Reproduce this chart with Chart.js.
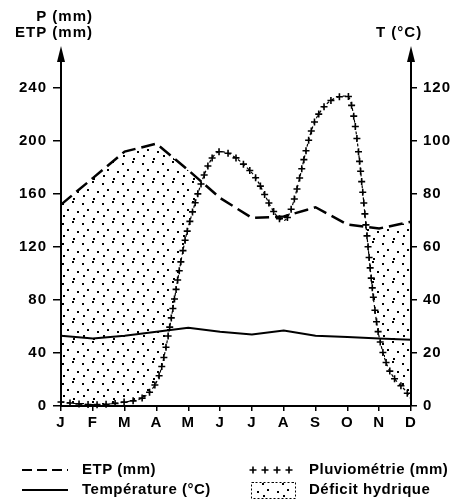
<!DOCTYPE html>
<html>
<head>
<meta charset="utf-8">
<script src="https://cdn.jsdelivr.net/npm/chart.js@4"></script>
<style>
  html, body { margin: 0; padding: 0; background: #fff; }
</style>
</head>
<body>
<canvas id="c" width="454" height="503"></canvas>
<script>
const months = ["J", "F", "M", "A", "M", "J", "J", "A", "S", "O", "N", "D"];
const etp = [152, 172, 192, 198, 178, 157, 142, 143, 150, 137, 134, 139];
const pluvio = [3, 1, 3, 18, 135, 192, 176, 140, 216, 234, 52, 5];
const temperature = [26.5, 25.5, 26.5, 28, 29.5, 28, 27, 28.5, 26.5, 26, 25.5, 25];

const FONT = "'Liberation Sans', Arial, sans-serif";

// stipple tile for the "déficit hydrique" area
function stipple() {
  const t = document.createElement("canvas");
  t.width = 20; t.height = 20;
  const g = t.getContext("2d");
  g.fillStyle = "#000";
  [[2, 3], [12, 1], [7, 9], [17, 11], [3, 15], [13, 18]].forEach(([x, y]) => {
    g.fillRect(x, y, 2, 2);
  });
  return g.createPattern(t, "repeat");
}

function cross(ctx, x, y, r) {
  ctx.moveTo(x - r, y); ctx.lineTo(x + r, y);
  ctx.moveTo(x, y - r); ctx.lineTo(x, y + r);
}

const decor = {
  id: "decor",
  beforeUpdate(chart) { chart.ctx.letterSpacing = "1px"; },
  beforeDraw(chart) { chart.ctx.letterSpacing = "1px"; },
  afterDatasetsDraw(chart) {
    // crosses along the rainfall curve
    const ctx = chart.ctx;
    const pts = chart.getDatasetMeta(1).data;
    ctx.save();
    ctx.strokeStyle = "#000";
    ctx.lineWidth = 1.6;
    ctx.beginPath();
    let prev = { x: pts[0].x, y: pts[0].y }, acc = 0;
    cross(ctx, prev.x, prev.y, 3.5);
    for (let i = 0; i < pts.length - 1; i++) {
      const a = pts[i], b = pts[i + 1];
      const c1x = a.cp2x ?? a.x, c1y = a.cp2y ?? a.y;
      const c2x = b.cp1x ?? b.x, c2y = b.cp1y ?? b.y;
      for (let k = 1; k <= 60; k++) {
        const t = k / 60, u = 1 - t;
        const x = u * u * u * a.x + 3 * u * u * t * c1x + 3 * u * t * t * c2x + t * t * t * b.x;
        const y = u * u * u * a.y + 3 * u * u * t * c1y + 3 * u * t * t * c2y + t * t * t * b.y;
        acc += Math.hypot(x - prev.x, y - prev.y);
        prev = { x, y };
        if (acc >= 9) { acc = 0; cross(ctx, x, y, 3.5); }
      }
    }
    ctx.stroke();
    ctx.restore();
  },
  afterDraw(chart) {
    const ctx = chart.ctx;
    const a = chart.chartArea;
    ctx.save();
    ctx.strokeStyle = "#000";
    ctx.fillStyle = "#000";
    ctx.lineWidth = 2;

    // axis arrows
    [a.left, a.right].forEach(x => {
      ctx.beginPath();
      ctx.moveTo(x, a.top); ctx.lineTo(x, 58);
      ctx.stroke();
      ctx.beginPath();
      ctx.moveTo(x, 46); ctx.lineTo(x - 4, 62); ctx.lineTo(x + 4, 62);
      ctx.closePath(); ctx.fill();
    });

    // axis titles
    ctx.letterSpacing = "1px";
    ctx.font = "bold 15px " + FONT;
    ctx.textBaseline = "middle";
    ctx.textAlign = "right";
    ctx.fillText("P (mm)", 93, 17);
    ctx.fillText("ETP (mm)", 93, 33);
    ctx.textAlign = "left";
    ctx.fillText("T (°C)", 376, 33);

    // legend
    const r1 = 470, r2 = 490;
    ctx.lineWidth = 2;
    ctx.setLineDash([10, 5]);
    ctx.beginPath(); ctx.moveTo(22, r1); ctx.lineTo(68, r1); ctx.stroke();
    ctx.setLineDash([]);
    ctx.beginPath(); ctx.moveTo(22, r2); ctx.lineTo(68, r2); ctx.stroke();
    ctx.lineWidth = 1.6;
    ctx.beginPath();
    [253, 265, 277, 289].forEach(x => cross(ctx, x, r1, 3.5));
    ctx.stroke();
    ctx.fillStyle = stipple();
    ctx.fillRect(251, 482, 44, 16);
    ctx.lineWidth = 1;
    ctx.setLineDash([2, 2]);
    ctx.strokeRect(251.5, 482.5, 44, 16);
    ctx.setLineDash([]);
    ctx.fillStyle = "#000";
    ctx.letterSpacing = "0.5px";
    ctx.fillText("ETP (mm)", 82, r1);
    ctx.fillText("Température (°C)", 82, r2);
    ctx.fillText("Pluviométrie (mm)", 309, r1);
    ctx.fillText("Déficit hydrique", 309, r2);
    ctx.restore();
  }
};

const tickFont = { family: FONT, size: 15, weight: "bold" };

new Chart(document.getElementById("c"), {
  type: "line",
  data: {
    labels: months,
    datasets: [
      {
        label: "ETP (mm)",
        data: etp,
        yAxisID: "y",
        borderColor: "#000",
        borderWidth: 2.5,
        borderDash: [14, 6],
        pointRadius: 0,
        tension: 0,
        fill: false
      },
      {
        label: "Pluviométrie (mm)",
        data: pluvio,
        yAxisID: "y",
        borderColor: "#000",
        borderWidth: 1.2,
        borderDash: [3, 3],
        pointRadius: 0,
        cubicInterpolationMode: "monotone",
        fill: { target: 0, above: "rgba(0,0,0,0)", below: stipple() }
      },
      {
        label: "Température (°C)",
        data: temperature,
        yAxisID: "y1",
        borderColor: "#000",
        borderWidth: 2,
        pointRadius: 0,
        tension: 0,
        fill: false
      }
    ]
  },
  options: {
    responsive: false,
    animation: false,
    devicePixelRatio: 1,
    layout: { padding: { top: 88, left: 0, right: 0, bottom: 0 } },
    plugins: { legend: { display: false }, tooltip: { enabled: false } },
    scales: {
      x: {
        offset: false,
        grid: { drawOnChartArea: false, tickLength: 5, color: "#000", lineWidth: 1.5 },
        border: { color: "#000", width: 2 },
        ticks: { color: "#000", font: tickFont, padding: 3, autoSkip: false, maxRotation: 0 },
        afterFit: s => { s.height = 97; }
      },
      y: {
        position: "left",
        min: 0, max: 240,
        grid: { drawOnChartArea: false, tickLength: 8, color: "#000", lineWidth: 1.5 },
        border: { color: "#000", width: 2 },
        ticks: { stepSize: 40, color: "#000", font: tickFont, padding: 6 },
        afterFit: s => { s.width = 61; }
      },
      y1: {
        position: "right",
        min: 0, max: 120,
        grid: { drawOnChartArea: false, tickLength: 6, color: "#000", lineWidth: 1.5 },
        border: { color: "#000", width: 2 },
        ticks: { stepSize: 20, color: "#000", font: tickFont, padding: 6 },
        afterFit: s => { s.width = 43; }
      }
    }
  },
  plugins: [decor]
});
</script>
</body>
</html>
